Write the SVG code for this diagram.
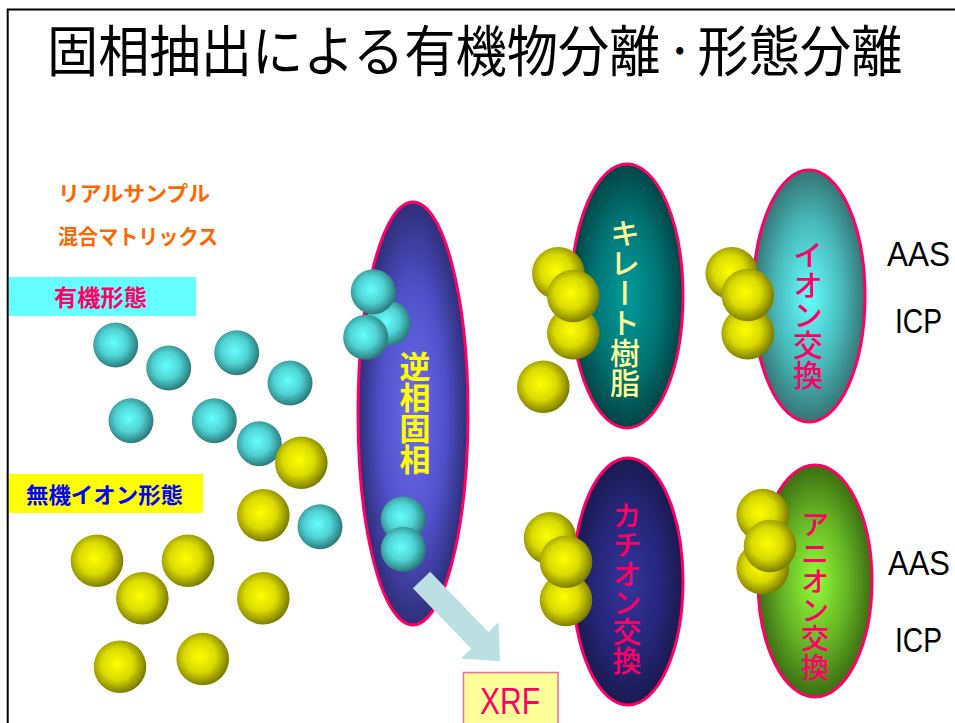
<svg xmlns="http://www.w3.org/2000/svg" xmlns:xlink="http://www.w3.org/1999/xlink" width="955" height="723" viewBox="0 0 955 723">
  <style>
    .title { font-family: "Noto Sans CJK JP", "Noto Sans", sans-serif; font-size: 55px; fill: #000; }
    .lbl { font-family: "Noto Sans CJK JP", sans-serif; font-weight: 700; }
    .vt { font-family: "Noto Sans CJK JP", sans-serif; writing-mode: vertical-rl; font-weight: 500; }
    .phase { stroke: #ff0066; stroke-width: 3; }
    .lat { font-family: "Liberation Sans", "Noto Sans", sans-serif; font-size: 36px; }
  </style>
  <defs>
    <radialGradient id="gCyan" cx="0.45" cy="0.45" r="0.55">
      <stop offset="0" stop-color="#66ffff"/>
      <stop offset="0.55" stop-color="#4fd2d2"/>
      <stop offset="1" stop-color="#2b7c7c"/>
    </radialGradient>
    <radialGradient id="gYellow" cx="0.45" cy="0.45" r="0.55">
      <stop offset="0" stop-color="#ffff00"/>
      <stop offset="0.55" stop-color="#dada00"/>
      <stop offset="1" stop-color="#7d7d00"/>
    </radialGradient>
    <radialGradient id="gRev" cx="0.5" cy="0.5" r="0.5">
      <stop offset="0" stop-color="#6d6df2"/>
      <stop offset="0.6" stop-color="#5050c8"/>
      <stop offset="1" stop-color="#2e2e78"/>
    </radialGradient>
    <radialGradient id="gChelate" cx="0.5" cy="0.5" r="0.5">
      <stop offset="0" stop-color="#009c9c"/>
      <stop offset="0.6" stop-color="#007474"/>
      <stop offset="1" stop-color="#004545"/>
    </radialGradient>
    <radialGradient id="gIon" cx="0.5" cy="0.5" r="0.5">
      <stop offset="0" stop-color="#66ffff"/>
      <stop offset="0.6" stop-color="#48b8b8"/>
      <stop offset="1" stop-color="#357575"/>
    </radialGradient>
    <radialGradient id="gCation" cx="0.5" cy="0.5" r="0.5">
      <stop offset="0" stop-color="#34349c"/>
      <stop offset="0.6" stop-color="#26267a"/>
      <stop offset="1" stop-color="#1a1a50"/>
    </radialGradient>
    <radialGradient id="gAnion" cx="0.5" cy="0.5" r="0.5">
      <stop offset="0" stop-color="#92ff38"/>
      <stop offset="0.6" stop-color="#64b024"/>
      <stop offset="1" stop-color="#3c6e12"/>
    </radialGradient>
    <circle id="cy" r="22.5" fill="url(#gCyan)"/>
    <circle id="ye" r="26.3" fill="url(#gYellow)"/>
  </defs>

  <rect width="955" height="723" fill="#ffffff"/>

  <!-- slide frame -->
  <path d="M7.7 723 V9.5 H955" fill="none" stroke="#000" stroke-width="2"/>

  <text class="title" transform="translate(47 71) scale(0.932 1)"><tspan x="0">固相抽出による有機物分離</tspan><tspan x="661" font-size="36" dy="-6">・</tspan><tspan x="698" dy="6">形態分離</tspan></text>

  <!-- sample description -->
  <g id="sample-labels">
    <text class="lbl" x="58" y="201" font-size="21" fill="#ff6600" textLength="152" lengthAdjust="spacingAndGlyphs">リアルサンプル</text>
    <text class="lbl" x="58" y="244" font-size="21" fill="#ff6600" textLength="160" lengthAdjust="spacingAndGlyphs">混合マトリックス</text>
  </g>

  <g id="organic-label">
    <rect x="9" y="277" width="187" height="39" fill="#66ffff"/>
    <text class="lbl" x="54" y="306" font-size="23" fill="#ff0066" textLength="93" lengthAdjust="spacingAndGlyphs">有機形態</text>
  </g>

  <g id="inorganic-label">
    <rect x="9" y="474" width="194" height="39" fill="#ffff00"/>
    <text class="lbl" x="26" y="503" font-size="22" fill="#0000ff" textLength="157" lengthAdjust="spacingAndGlyphs">無機イオン形態</text>
  </g>

  <!-- free species in the sample -->
  <g id="sample-species">
    <use xlink:href="#cy" x="115.7" y="345"/>
    <use xlink:href="#cy" x="168.7" y="368"/>
    <use xlink:href="#cy" x="236.7" y="352.7"/>
    <use xlink:href="#cy" x="290" y="383"/>
    <use xlink:href="#cy" x="131" y="420.7"/>
    <use xlink:href="#cy" x="214.3" y="420.7"/>
    <use xlink:href="#cy" x="259.3" y="443.7"/>
    <use xlink:href="#ye" x="301.3" y="462.7"/>
    <use xlink:href="#ye" x="263.3" y="515.3"/>
    <use xlink:href="#cy" x="320" y="526.7"/>
    <use xlink:href="#ye" x="97" y="560.7"/>
    <use xlink:href="#ye" x="188" y="560.7"/>
    <use xlink:href="#ye" x="142.3" y="598.3"/>
    <use xlink:href="#ye" x="263.3" y="598.3"/>
    <use xlink:href="#ye" x="120" y="666.7"/>
    <use xlink:href="#ye" x="202.7" y="659"/>
  </g>

  <!-- reversed-phase cartridge -->
  <g id="reversed-phase">
    <ellipse class="phase" cx="413" cy="413.5" rx="55" ry="211.5" fill="url(#gRev)"/>
    <text class="vt" x="415" y="351" font-size="31" fill="#ffff00" style="font-weight:700">逆相固相</text>
    <use xlink:href="#cy" x="388.3" y="323.3"/>
    <use xlink:href="#cy" x="373.3" y="291.7"/>
    <use xlink:href="#cy" x="365.7" y="337.3"/>
    <use xlink:href="#cy" x="403.3" y="519"/>
    <use xlink:href="#cy" x="403.3" y="549.3"/>
  </g>

  <!-- chelating resin -->
  <g id="chelate-resin">
    <ellipse class="phase" cx="627" cy="296" rx="56" ry="132" fill="url(#gChelate)"/>
    <text class="vt" x="625" y="218" font-size="30" fill="#ffff99">キレート樹脂</text>
    <use xlink:href="#ye" x="558.3" y="273.3"/>
    <use xlink:href="#ye" x="573.3" y="333.3"/>
    <use xlink:href="#ye" x="573.3" y="296"/>
    <use xlink:href="#ye" x="543.3" y="386.7"/>
  </g>

  <!-- ion exchange resin -->
  <g id="ion-exchange">
    <ellipse class="phase" cx="809" cy="296" rx="56" ry="126" fill="url(#gIon)"/>
    <text class="vt" x="808" y="240" font-size="30" fill="#ff0066">イオン交換</text>
    <use xlink:href="#ye" x="731.7" y="273.3"/>
    <use xlink:href="#ye" x="747.7" y="333.3"/>
    <use xlink:href="#ye" x="747.7" y="295"/>
  </g>

  <!-- cation exchange resin -->
  <g id="cation-exchange">
    <ellipse class="phase" cx="628" cy="581.5" rx="55" ry="123.5" fill="url(#gCation)"/>
    <text class="vt" x="627" y="501" font-size="29" fill="#ff0066">カチオン交換</text>
    <use xlink:href="#ye" x="550" y="538.3"/>
    <use xlink:href="#ye" x="566" y="600"/>
    <use xlink:href="#ye" x="566" y="561.7"/>
  </g>

  <!-- anion exchange resin -->
  <g id="anion-exchange">
    <ellipse class="phase" cx="815" cy="581" rx="57" ry="116" fill="url(#gAnion)"/>
    <text class="vt" x="815" y="510" font-size="28.5" fill="#ff0066">アニオン交換</text>
    <use xlink:href="#ye" x="762.7" y="515"/>
    <use xlink:href="#ye" x="762.7" y="568.3"/>
    <use xlink:href="#ye" x="770" y="546"/>
  </g>

  <!-- detection methods -->
  <g id="detect-upper" fill="#000">
    <text class="lat" transform="translate(887 266) scale(0.875 1)">AAS</text>
    <text class="lat" transform="translate(895 333) scale(0.783 1)">ICP</text>
  </g>
  <g id="detect-lower" fill="#000">
    <text class="lat" transform="translate(888 575) scale(0.86 1)">AAS</text>
    <text class="lat" transform="translate(895 652) scale(0.783 1)">ICP</text>
  </g>

  <g id="xrf">
    <rect x="463.5" y="672.5" width="94.5" height="60" fill="#ffff99" stroke="#ff6699" stroke-width="1.5"/>
    <text class="lat" transform="translate(480 714) scale(0.833 1)" fill="#ff0066">XRF</text>
  </g>

  <!-- connectors -->
  <g id="connectors">
    <polygon transform="translate(421.5 580) rotate(46)" fill="#bbdfe2"
      points="0,-12 84,-12 84,-26 113,0 84,26 84,12 0,12"/>
  </g>
</svg>
